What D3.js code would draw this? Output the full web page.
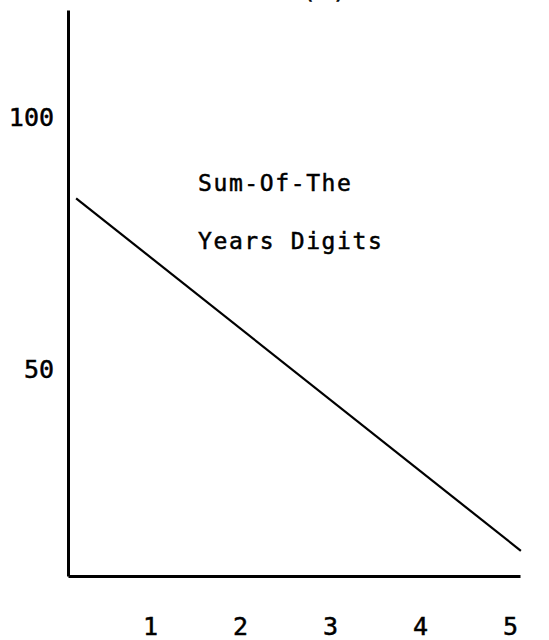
<!DOCTYPE html>
<html>
<head>
<meta charset="utf-8">
<script src="https://cdn.jsdelivr.net/npm/d3@7"></script>
<style>
    body { margin: 0; background: #fff; }
    svg { display: block; }
    .axis path { stroke: #000; stroke-width: 3; }
    .axis text { font-family: "DejaVu Sans Mono", monospace; font-size: 25px; fill: #000; stroke: #000; stroke-width: 0.5px; }
    .label { font-family: "DejaVu Sans Mono", monospace; font-size: 23px; letter-spacing: 1.6px; fill: #000; stroke: #000; stroke-width: 0.5px; }
</style>
</head>
<body>
<svg id="chart" width="549" height="640"></svg>
<script>
// data
let years = [0.18, 5.12];
let values = [84, 14];
let xTicks = [1, 2, 3, 4, 5];
let yTicks = [50, 100];
let labelLines = ['Sum-Of-The', 'Years Digits'];
let panelTag = '(b)';

var config = {
    width: 549,
    height: 640,
    left: 68,
    right: 520,
    top: 10,
    bottom: 576
}

let svg = d3.select('#chart');

// axes frame spans a bit past the tick range, like the drawing
let x = d3.scaleLinear()
    .domain([0.09, 5.11])
    .range([config.left, config.right]);

let y = d3.scaleLinear()
    .domain([9, 121.4])
    .range([config.bottom, config.top]);

function drawAxes(){
    let xAxis = d3.axisBottom(x)
        .tickValues(xTicks)
        .tickSize(0)
        .tickSizeOuter(0)
        .tickFormat(d3.format('d'));

    let gx = svg.append('g')
        .attr('class', 'axis')
        .attr('transform', 'translate(0,' + config.bottom + ')')
        .call(xAxis);
    gx.selectAll('text')
        .attr('y', 59)
        .attr('dy', 0);

    let yAxis = d3.axisLeft(y)
        .tickValues(yTicks)
        .tickSize(0)
        .tickSizeOuter(0)
        .tickFormat(d3.format('d'));

    let gy = svg.append('g')
        .attr('class', 'axis')
        .attr('transform', 'translate(' + config.left + ',0)')
        .call(yAxis);
    gy.selectAll('text')
        .attr('x', -14);
}

function drawLine(){
    let pts = years.map(function(d, i){ return [d, values[i]] });
    let line = d3.line()
        .x(function(d){ return x(d[0]) })
        .y(function(d){ return y(d[1]) });

    svg.append('path')
        .datum(pts)
        .attr('d', line)
        .attr('fill', 'none')
        .attr('stroke', '#000')
        .attr('stroke-width', 2.2);
}

function drawLabels(){
    svg.selectAll('text.label')
        .data(labelLines)
        .join('text')
        .attr('class', 'label')
        .attr('x', 198)
        .attr('y', function(d, i){ return 191 + i * 58 })
        .text(function(d){ return d });

    // only the bottom of the panel tag shows at the top edge
    svg.append('text')
        .attr('class', 'label')
        .attr('x', 325)
        .attr('y', -1)
        .attr('text-anchor', 'middle')
        .text(panelTag);
}

drawAxes();
drawLine();
drawLabels();
</script>
</body>
</html>
